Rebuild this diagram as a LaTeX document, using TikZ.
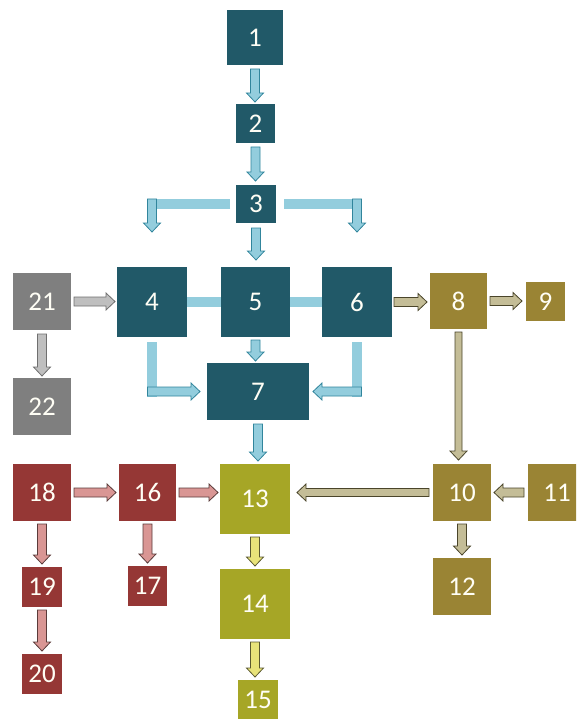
\documentclass[tikz,border=0pt]{standalone}
\usepackage{fontspec}
\setmainfont{Carlito}
\usetikzlibrary{calc}
\definecolor{teal}{HTML}{215968}
\definecolor{gold}{HTML}{9A8434}
\definecolor{yg}{HTML}{A6A626}
\definecolor{dred}{HTML}{953735}
\definecolor{dgray}{HTML}{7F7F7F}
\definecolor{ablue}{HTML}{93CDDD}
\definecolor{ablueo}{HTML}{31859C}
\definecolor{atan}{HTML}{C4BD97}
\definecolor{atano}{HTML}{4A452A}
\definecolor{apink}{HTML}{D99694}
\definecolor{apinko}{HTML}{5A3B3A}
\definecolor{agray}{HTML}{BFBFBF}
\definecolor{agrayo}{HTML}{6F6F6F}
\definecolor{ayel}{HTML}{E8E37A}
\definecolor{ayelo}{HTML}{5A5830}
\def\sw{4.5}\def\hw{8.5}\def\hl{9}
\newcommand\barrow[3][]{%
  \draw[barr,#1] let \p1=#2, \p2=#3, \n2={veclen(\x2-\x1,\y2-\y1)},
    \p3=({(\x2-\x1)/\n2},{(\y2-\y1)/\n2}) in
    ({\x1-\sw*\y3},{\y1+\sw*\x3}) --
    ({\x2-\hl*\x3-\sw*\y3},{\y2-\hl*\y3+\sw*\x3}) --
    ({\x2-\hl*\x3-\hw*\y3},{\y2-\hl*\y3+\hw*\x3}) --
    (\p2) --
    ({\x2-\hl*\x3+\hw*\y3},{\y2-\hl*\y3-\hw*\x3}) --
    ({\x2-\hl*\x3+\sw*\y3},{\y2-\hl*\y3-\sw*\x3}) --
    ({\x1+\sw*\y3},{\y1-\sw*\x3}) -- cycle;}
\tikzset{
  box/.style={inner sep=0pt, outer sep=0pt, text=white!96!yellow, font=\fontsize{27}{27}\selectfont},
  bx/.style 2 args={box, minimum width=#1pt, minimum height=#2pt},
  barr/.style={line width=0.8pt, line join=miter},
  blue/.style={fill=ablue, draw=ablueo},
  tan/.style={fill=atan, draw=atano},
  pink/.style={fill=apink, draw=apinko},
  gry/.style={fill=agray, draw=agrayo},
  yel/.style={fill=ayel, draw=ayelo},
  bbar/.style={draw=ablue, line width=10pt, line cap=butt}
}
\begin{document}
\begin{tikzpicture}[x=1pt,y=-1pt]
\useasboundingbox (0,0) rectangle (576,719);
\clip (0,0) rectangle (576,719);
% teal
\node[bx={56}{55}, fill=teal] (n1) at (255,37.5) {1};
\node[bx={39}{39}, fill=teal] (n2) at (255.5,123.5) {2};
\node[bx={40}{38}, fill=teal] (n3) at (256,204) {3};
\node[bx={70}{70}, fill=teal] (n4) at (152,302) {4};
\node[bx={69}{70}, fill=teal] (n5) at (255.5,302) {5};
\node[bx={70}{70}, fill=teal] (n6) at (357,302) {6};
\node[bx={102}{57}, fill=teal] (n7) at (258,391.5) {7};
% gold
\node[bx={57}{56}, fill=gold] (n8) at (458.5,301) {8};
\node[bx={39}{39}, fill=gold] (n9) at (545.5,301.5) {9};
\node[bx={58}{57}, fill=gold] (n10) at (462,492.5) {10};
\node[bx={58}{57}, fill=gold] (n11) at (557,492.5) {11};
\node[bx={58}{57}, fill=gold] (n12) at (462,586.5) {12};
% gray
\node[bx={58}{57}, fill=dgray] (n21) at (42,301.5) {21};
\node[bx={58}{57}, fill=dgray] (n22) at (42,406.5) {22};
% yellow-green
\node[bx={70}{70}, fill=yg] (n13) at (255,499) {13};
\node[bx={70}{70}, fill=yg] (n14) at (255,604) {14};
\node[bx={40}{40}, fill=yg] (n15) at (258,700) {15};
% red
\node[bx={58}{57}, fill=dred] (n18) at (42,492.5) {18};
\node[bx={57}{57}, fill=dred] (n16) at (147.5,492.5) {16};
\node[bx={40}{40}, fill=dred] (n19) at (42,587) {19};
\node[bx={39}{40}, fill=dred] (n17) at (147.5,586) {17};
\node[bx={40}{40}, fill=dred] (n20) at (42,674) {20};
% blue connectors
\barrow[blue]{($(n1.south)+(0,4)$)}{($(n1.south|-n2.north)+(0,-2)$)}
\barrow[blue]{($(n2.south)+(0,4)$)}{($(n2.south|-n3.north)+(0,-4)$)}
\barrow[blue]{($(n3.south)+(0,5)$)}{($(n3.south|-n5.north)+(0,-7)$)}
\draw[bbar] ($(n3.west)+(-6,0)$) -- (n4.north|-n3.west);
\draw[bbar] ($(n3.east)+(8,0)$) -- (n6.north|-n3.east);
\barrow[blue]{($(n4.north|-n3.west)+(0,-5)$)}{($(n4.north)+(0,-35)$)}
\barrow[blue]{($(n6.north|-n3.east)+(0,-5)$)}{($(n6.north)+(0,-35)$)}
\draw[bbar] (n4.east) -- (n5.west);
\draw[bbar] (n5.east) -- (n6.west);
\barrow[blue]{($(n5.south)+(0,3)$)}{($(n5.south|-n7.north)+(0,-2)$)}
\draw[bbar] ($(n4.south)+(0,5)$) -- ($(n4.south|-n7.west)+(0,5)$);
\barrow[blue]{($(n4.south|-n7.west)+(-4.5,0)$)}{($(n7.west)+(-7,0)$)}
\draw[bbar] ($(n6.south)+(0,5)$) -- ($(n6.south|-n7.east)+(0,5)$);
\barrow[blue]{($(n6.south|-n7.east)+(4.5,0)$)}{($(n7.east)+(4,0)$)}
\barrow[blue]{($(n7.south)+(0,4)$)}{($(n7.south|-n13.north)+(0,-3)$)}
% gray
\barrow[gry]{($(n21.east)+(3,0)$)}{($(n4.west|-n21.east)+(-2,0)$)}
\barrow[gry]{($(n21.south)+(0,4)$)}{($(n22.north)+(0,-2)$)}
% tan
\barrow[tan]{($(n6.east)+(2,0)$)}{($(n8.west|-n6.east)+(-3,0)$)}
\barrow[tan]{($(n8.east)+(3,0)$)}{($(n9.west|-n8.east)+(-4,0)$)}
{\def\sw{3.5}\barrow[tan]{($(n8.south)+(0,3)$)}{($(n8.south|-n10.north)+(0,-4)$)}}
{\def\sw{4}\barrow[tan]{($(n10.west)+(-4,0)$)}{($(n13.east|-n10.west)+(7,0)$)}}
\barrow[tan]{($(n11.west)+(-4,0)$)}{($(n10.east)+(3,0)$)}
\barrow[tan]{($(n10.south)+(0,3)$)}{($(n12.north)+(0,-3)$)}
% pink
\barrow[pink]{($(n18.east)+(3,0)$)}{($(n16.west)+(-3,0)$)}
\barrow[pink]{($(n16.east)+(3,0)$)}{($(n13.west|-n16.east)+(-2,0)$)}
\barrow[pink]{($(n18.south)+(0,3)$)}{($(n19.north)+(0,-3)$)}
\barrow[pink]{($(n16.south)+(0,3)$)}{($(n17.north)+(0,-3)$)}
\barrow[pink]{($(n19.south)+(0,3)$)}{($(n20.north)+(0,-3)$)}
% yellow
\barrow[yel]{($(n13.south)+(0,3)$)}{($(n14.north)+(0,-3)$)}
\barrow[yel]{($(n14.south)+(0,3)$)}{($(n14.south|-n15.north)+(0,-3)$)}
\end{tikzpicture}
\end{document}
